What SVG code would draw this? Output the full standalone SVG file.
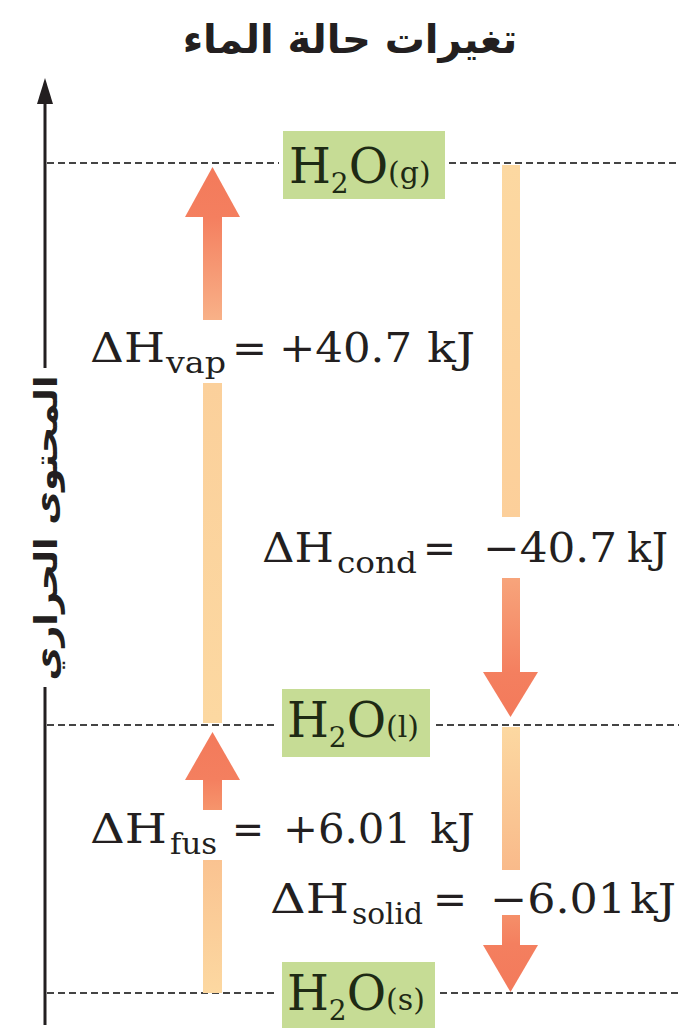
<svg xmlns="http://www.w3.org/2000/svg" width="679" height="1035" viewBox="0 0 679 1035">
<style>
.ar{font-family:"DejaVu Sans",sans-serif;font-weight:bold;fill:#231F20}
.lbl{font-family:"DejaVu Serif",serif;font-size:41px;fill:#231F20}
.sub{font-family:"DejaVu Serif",serif;font-size:29px;fill:#231F20}
.h2o{font-family:"DejaVu Serif",serif;font-size:48px;fill:#1E2A14}
.h2o .s2{font-size:28px}
.h2o .st{font-size:30px}
.box{fill:#C6DC95}
.dash{stroke:#444444;stroke-width:1.9;stroke-dasharray:7 4;fill:none}
.axis{stroke:#231F20;stroke-width:3;fill:none}
</style>
<defs>
<linearGradient id="gVap" gradientUnits="userSpaceOnUse" x1="0" y1="723" x2="0" y2="167">
<stop offset="0" stop-color="#FCD8A1"/>
<stop offset="0.61" stop-color="#FBD09B"/>
<stop offset="0.725" stop-color="#F8B188"/>
<stop offset="0.91" stop-color="#F47F5F"/>
<stop offset="1" stop-color="#F37A5B"/>
</linearGradient>
<linearGradient id="gFus" gradientUnits="userSpaceOnUse" x1="0" y1="993" x2="0" y2="732">
<stop offset="0" stop-color="#FCD8A1"/>
<stop offset="0.51" stop-color="#FAC391"/>
<stop offset="0.70" stop-color="#F6956C"/>
<stop offset="0.82" stop-color="#F47F5F"/>
<stop offset="1" stop-color="#F37A5B"/>
</linearGradient>
<linearGradient id="gCond" gradientUnits="userSpaceOnUse" x1="0" y1="165" x2="0" y2="717">
<stop offset="0" stop-color="#FCD8A1"/>
<stop offset="0.64" stop-color="#FCCF9A"/>
<stop offset="0.75" stop-color="#F7A47B"/>
<stop offset="0.92" stop-color="#F47F5F"/>
<stop offset="1" stop-color="#F37A5B"/>
</linearGradient>
<linearGradient id="gSolid" gradientUnits="userSpaceOnUse" x1="0" y1="727" x2="0" y2="992">
<stop offset="0" stop-color="#FCD8A1"/>
<stop offset="0.54" stop-color="#F9BA8A"/>
<stop offset="0.71" stop-color="#F58F69"/>
<stop offset="0.82" stop-color="#F47F5F"/>
<stop offset="1" stop-color="#F37A5B"/>
</linearGradient>
</defs>
<rect width="679" height="1035" fill="#FFFFFF"/>

<text class="ar" x="350" y="53" font-size="40" text-anchor="middle">تغيرات حالة الماء</text>

<g id="axis">
<line class="axis" x1="45" y1="98" x2="45" y2="368"/>
<line class="axis" x1="45" y1="687" x2="45" y2="1025"/>
<polygon points="45,78 53,104 37,104" fill="#231F20"/>
<text class="ar" font-size="32" text-anchor="middle" textLength="305" lengthAdjust="spacingAndGlyphs" transform="translate(57,528) rotate(-90)">المحتوى الحراري</text>
</g>

<g id="levels">
<line class="dash" x1="47" y1="163" x2="279" y2="163"/>
<line class="dash" x1="449" y1="163" x2="679" y2="163"/>
<line class="dash" x1="47" y1="725" x2="277" y2="725"/>
<line class="dash" x1="436" y1="725" x2="679" y2="725"/>
<line class="dash" x1="47" y1="993" x2="277" y2="993"/>
<line class="dash" x1="440" y1="993" x2="679" y2="993"/>
</g>

<g id="connectors">
<g id="vap">
<rect x="203" y="383" width="19" height="340" fill="url(#gVap)"/>
<rect x="203" y="215" width="19" height="105" fill="url(#gVap)"/>
<polygon points="212.5,167 240,217 185,217" fill="url(#gVap)"/>
<text class="lbl" x="90" y="362" textLength="75" lengthAdjust="spacingAndGlyphs">ΔH</text>
<text class="sub" x="166" y="373" textLength="60" lengthAdjust="spacingAndGlyphs">vap</text>
<text class="lbl" x="232" y="362" textLength="35" lengthAdjust="spacingAndGlyphs">=</text>
<text class="lbl" x="279" y="362" textLength="133" lengthAdjust="spacingAndGlyphs">+40.7</text>
<text class="lbl" x="427" y="362" textLength="48" lengthAdjust="spacingAndGlyphs">kJ</text>
</g>
<g id="cond">
<rect x="502" y="165" width="18" height="352" fill="url(#gCond)"/>
<rect x="502" y="578" width="18" height="96" fill="url(#gCond)"/>
<polygon points="483,672 538,672 510.5,717" fill="url(#gCond)"/>
<text class="lbl" x="262" y="562" textLength="72" lengthAdjust="spacingAndGlyphs">ΔH</text>
<text class="sub" x="337" y="573" textLength="80" lengthAdjust="spacingAndGlyphs">cond</text>
<text class="lbl" x="423" y="562" textLength="33" lengthAdjust="spacingAndGlyphs">=</text>
<text class="lbl" x="483" y="562" textLength="134" lengthAdjust="spacingAndGlyphs">−40.7</text>
<text class="lbl" x="627" y="562" textLength="41" lengthAdjust="spacingAndGlyphs">kJ</text>
</g>
<g id="fus">
<rect x="203" y="860" width="19" height="133" fill="url(#gFus)"/>
<rect x="203" y="778" width="19" height="32" fill="url(#gFus)"/>
<polygon points="212.5,732 240,780 185,780" fill="url(#gFus)"/>
<text class="lbl" x="90" y="843" textLength="77" lengthAdjust="spacingAndGlyphs">ΔH</text>
<text class="sub" x="170" y="854" textLength="47" lengthAdjust="spacingAndGlyphs">fus</text>
<text class="lbl" x="232" y="843" textLength="32" lengthAdjust="spacingAndGlyphs">=</text>
<text class="lbl" x="283" y="843" textLength="128" lengthAdjust="spacingAndGlyphs">+6.01</text>
<text class="lbl" x="430" y="843" textLength="45" lengthAdjust="spacingAndGlyphs">kJ</text>
</g>
<g id="solid">
<rect x="502" y="727" width="18" height="143" fill="url(#gSolid)"/>
<rect x="502" y="915" width="18" height="32" fill="url(#gSolid)"/>
<polygon points="483,945 538,945 510.5,992" fill="url(#gSolid)"/>
<text class="lbl" x="270" y="913" textLength="79" lengthAdjust="spacingAndGlyphs">ΔH</text>
<text class="sub" x="352" y="924" textLength="71" lengthAdjust="spacingAndGlyphs">solid</text>
<text class="lbl" x="433" y="913" textLength="34" lengthAdjust="spacingAndGlyphs">=</text>
<text class="lbl" x="490" y="913" textLength="136" lengthAdjust="spacingAndGlyphs">−6.01</text>
<text class="lbl" x="630" y="913" textLength="46" lengthAdjust="spacingAndGlyphs">kJ</text>
</g>
</g>

<g id="gas">
<rect class="box" x="283" y="131" width="162" height="68"/>
<text class="h2o" x="289" y="183">H<tspan class="s2" dy="10">2</tspan><tspan dy="-10">O</tspan><tspan class="st">(g)</tspan></text>
</g>
<g id="liquid">
<rect class="box" x="282" y="689" width="148" height="68"/>
<text class="h2o" x="287" y="737">H<tspan class="s2" dy="10">2</tspan><tspan dy="-10">O</tspan><tspan class="st">(l)</tspan></text>
</g>
<g id="solidstate">
<rect class="box" x="282" y="962" width="153" height="66"/>
<text class="h2o" x="287" y="1010">H<tspan class="s2" dy="10">2</tspan><tspan dy="-10">O</tspan><tspan class="st">(s)</tspan></text>
</g>
</svg>
